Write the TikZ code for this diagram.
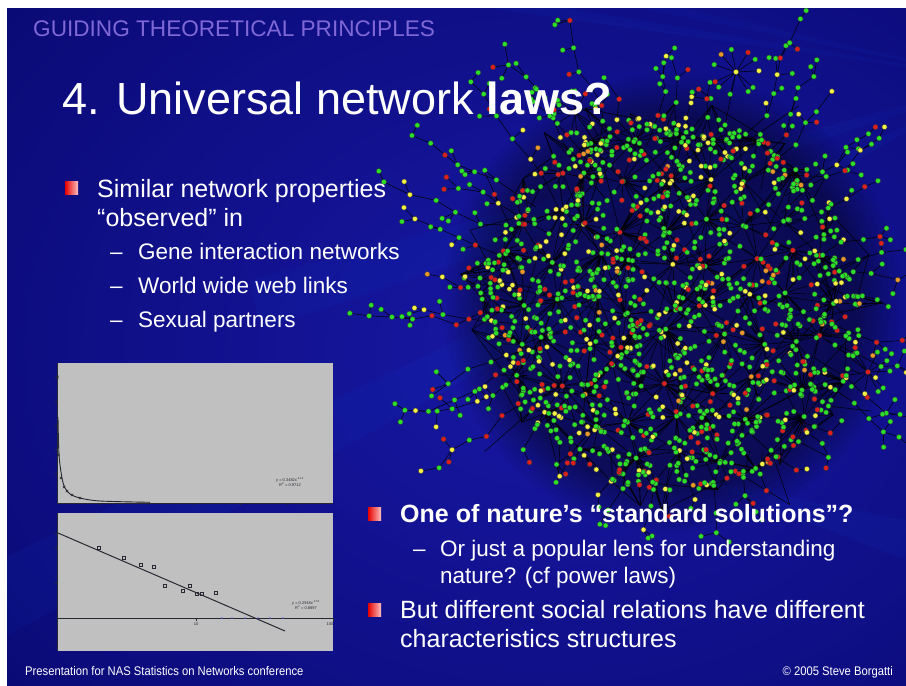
\documentclass[tikz,border=0pt]{standalone}
\usepackage{fontspec}
\setmainfont{Liberation Sans}
\usetikzlibrary{fadings}
\newcount\dotcount
\newcommand\storedot[2]{%
  \global\advance\dotcount by 1
  \expandafter\xdef\csname px\the\dotcount\endcsname{#1}%
  \expandafter\xdef\csname py\the\dotcount\endcsname{#2}}
\begin{document}
\begin{tikzpicture}[x=1pt,y=-1pt]
\definecolor{slidedeep}{RGB}{10,10,118}
\definecolor{slidemid}{RGB}{24,24,165}
\definecolor{headpurple}{RGB}{128,104,214}
\definecolor{ngreen}{RGB}{40,225,40}
\definecolor{nred}{RGB}{225,30,30}
\definecolor{nyellow}{RGB}{245,240,70}
\definecolor{norange}{RGB}{235,150,40}
\definecolor{chartgrey}{RGB}{192,192,192}
\definecolor{chartline}{RGB}{40,40,50}
\tikzset{
  edge/.style={black,line width=0.6pt,opacity=0.85},
  nodedot/.style={draw=black!80,line width=0.35pt},
  txt/.style={inner sep=0pt,anchor=base west,text=white},
  headline/.style={txt,font=\fontsize{25}{30}\selectfont},
  subline/.style={txt,font=\fontsize{22.5}{27}\selectfont},
  bulletbox/.style={left color=red!90!black,right color=red!25!white,draw=none},
  ray/.style={fill=blue!60!cyan,opacity=0.05},
  tick/.style={chartline,line width=0.5pt},
  datapt/.style={chartline,line width=0.6pt},
}
\useasboundingbox (0,0) rectangle (906,686);
\fill[white] (0,0) rectangle (906,686);

% slide background with soft light streaks
\begin{scope}
  \clip (7,8) rectangle (906,686);
  \shade[inner color=slidemid,outer color=slidedeep] (-150,-200) rectangle (1250,900);
  \fill[ray] (1000,80) -- (430,0) -- (520,0) -- cycle;
  \fill[ray] (1000,80) -- (600,0) -- (650,0) -- cycle;
  \fill[ray] (1000,80) -- (250,280) -- (260,330) -- cycle;
  \fill[ray] (1000,80) -- (0,560) -- (0,640) -- cycle;
  \fill[ray] (700,480) -- (906,520) -- (906,560) -- cycle;
\end{scope}

% network drawing: edges first, dots afterwards
\begin{scope}
  \clip (7,8) rectangle (906,686);
  % dark haze under the dense core
  \fill[black,opacity=0.42,path fading=circle with fuzzy edge 20 percent] (672,302) circle[radius=230];
  \pgfmathsetseed{2718}
  % hubs on a jittered grid over the core disc
  \foreach \gi in {0,...,10}{
    \foreach \gj in {0,...,10}{
      \pgfmathsetmacro\hx{472+40*\gi+13*rand}
      \pgfmathsetmacro\hy{102+40*\gj+13*rand}
      \expandafter\xdef\csname hx\gi-\gj\endcsname{\hx}
      \expandafter\xdef\csname hy\gi-\gj\endcsname{\hy}
    }
  }
  % links between neighbouring hubs, and the hub dots
  \foreach \gi in {0,...,10}{
    \foreach \gj in {0,...,10}{
      \edef\ax{\csname hx\gi-\gj\endcsname}\edef\ay{\csname hy\gi-\gj\endcsname}
      \pgfmathtruncatemacro\inside{veclen(0.01*(\ax-672),0.01*(\ay-302))<1.9}
      \ifnum\inside=1
        \storedot{\ax}{\ay}
        \foreach \di/\dj in {1/0,0/1,1/1,1/-1}{
          \pgfmathtruncatemacro\ni{\gi+\di}
          \pgfmathtruncatemacro\nj{\gj+\dj}
          \pgfmathtruncatemacro\ok{(rnd<0.6)&&(\ni<11)&&(\nj>-1)&&(\nj<11)}
          \ifnum\ok=1
            \edef\bx{\csname hx\ni-\nj\endcsname}\edef\by{\csname hy\ni-\nj\endcsname}
            \pgfmathtruncatemacro\okb{veclen(0.01*(\bx-672),0.01*(\by-302))<1.9}
            \ifnum\okb=1 \draw[edge] (\ax,\ay) -- (\bx,\by);\fi
          \fi
        }
      \fi
    }
  }
  % core members, each tied to the hub of its grid cell
  \foreach \i in {1,...,1250}{
    \pgfmathsetmacro\r{190*sqrt(rnd)}
    \pgfmathsetmacro\a{360*rnd}
    \pgfmathsetmacro\nx{672+\r*cos(\a)}
    \pgfmathsetmacro\ny{302+\r*sin(\a)}
    \pgfmathtruncatemacro\ci{round((\nx-472)/40)}
    \pgfmathtruncatemacro\cj{round((\ny-102)/40)}
    \edef\ax{\csname hx\ci-\cj\endcsname}\edef\ay{\csname hy\ci-\cj\endcsname}
    \draw[edge] (\ax,\ay) -- (\nx,\ny);
    \pgfmathtruncatemacro\extra{rnd<0.3}
    \ifnum\extra=1
      \pgfmathtruncatemacro\ei{max(0,min(10,\ci+round(rand)))}
      \pgfmathtruncatemacro\ej{max(0,min(10,\cj+round(rand)))}
      \edef\bx{\csname hx\ei-\ej\endcsname}\edef\by{\csname hy\ei-\ej\endcsname}
      \draw[edge] (\nx,\ny) -- (\bx,\by);
    \fi
    \storedot{\nx}{\ny}
  }
  % outward branches with twigs
  \foreach \b in {0,...,47}{
    \pgfmathsetmacro\th{\b*7.5+4*rand}
    \pgfmathsetmacro\rs{172+22*rnd}
    \pgfmathsetmacro\sx{672+\rs*cos(\th)}
    \pgfmathsetmacro\sy{302+\rs*sin(\th)}
    \pgfmathsetmacro\ix{672+(\rs-32)*cos(\th+8*rand)}
    \pgfmathsetmacro\iy{302+(\rs-32)*sin(\th+8*rand)}
    \draw[edge] (\ix,\iy) -- (\sx,\sy);
    \storedot{\sx}{\sy}
    \xdef\cx{\sx}\xdef\cy{\sy}
    \pgfmathtruncatemacro\down{sin(\th)>0.62}
    \pgfmathtruncatemacro\west{cos(\th)<-0.6}
    \ifnum\down=1
      \pgfmathtruncatemacro\len{1+1.6*rnd}
    \else
      \ifnum\west=1
        \pgfmathtruncatemacro\len{4+3.9*rnd}
      \else
        \pgfmathtruncatemacro\len{2+4.9*rnd}
      \fi
    \fi
    \foreach \s in {1,...,\len}{
      \pgfmathsetmacro\dir{\th+26*rand}
      \pgfmathsetmacro\st{15+14*rnd}
      \pgfmathsetmacro\nx{\cx+\st*cos(\dir)}
      \pgfmathsetmacro\ny{\cy+\st*sin(\dir)}
      \draw[edge] (\cx,\cy) -- (\nx,\ny);
      \storedot{\nx}{\ny}
      \pgfmathtruncatemacro\lv{2.7*rnd}
      \ifnum\lv>0
        \foreach \l in {1,...,\lv}{
          \pgfmathsetmacro\la{\dir+100*rand}
          \pgfmathsetmacro\lr{9+8*rnd}
          \pgfmathsetmacro\lx{\nx+\lr*cos(\la)}
          \pgfmathsetmacro\ly{\ny+\lr*sin(\la)}
          \draw[edge] (\nx,\ny) -- (\lx,\ly);
          \storedot{\lx}{\ly}
        }
      \fi
      \xdef\cx{\nx}\xdef\cy{\ny}
    }
  }
  % small star-shaped clusters on the rim
  \foreach \fx/\fy/\fr/\fn/\tx/\ty in {575/112/21/13/600/150, 736/72/23/11/725/125, 868/372/22/10/835/345, 480/278/15/8/520/290}{
    \draw[edge] (\fx,\fy) -- (\tx,\ty);
    \storedot{\tx}{\ty}
    \storedot{\fx}{\fy}
    \foreach \q in {1,...,\fn}{
      \pgfmathsetmacro\qa{\q*360/\fn+12*rand}
      \pgfmathsetmacro\qx{\fx+\fr*cos(\qa)}
      \pgfmathsetmacro\qy{\fy+\fr*sin(\qa)}
      \draw[edge] (\fx,\fy) -- (\qx,\qy);
      \storedot{\qx}{\qy}
    }
  }
  \foreach \i in {1,...,\the\dotcount}{
    \pgfmathtruncatemacro\c{100*rnd}
    \ifnum\c<66 \def\col{ngreen}\else\ifnum\c<83 \def\col{nred}\else\ifnum\c<97 \def\col{nyellow}\else\def\col{norange}\fi\fi\fi
    \edef\xx{\csname px\i\endcsname}
    \edef\yy{\csname py\i\endcsname}
    \filldraw[nodedot,fill=\col] (\xx,\yy) circle[radius=2.6];
  }
\end{scope}

% header and title
\node[txt,text=headpurple,font=\fontsize{22.6}{27}\selectfont] (head) at (33,36) {GUIDING THEORETICAL PRINCIPLES};
\node[txt,font=\fontsize{45}{54}\selectfont] (title) at (62,114) {4. Universal network \textbf{laws?}};

% first bullet group
\fill[bulletbox] (65,181) rectangle (78,194);
\node[headline] (b1a) at (97,197) {Similar network properties};
\node[headline] (b1b) at (97,226) {“observed” in};
\node[subline] (d1) at (110,259) {–};
\node[subline] (s1) at (138,259) {Gene interaction networks};
\node[subline] (d2) at (110,293) {–};
\node[subline] (s2) at (138,293) {World wide web links};
\node[subline] (d3) at (110,327) {–};
\node[subline] (s3) at (138,327) {Sexual partners};

% second bullet group
\fill[bulletbox] (368,507) rectangle (381,520);
\node[headline,font=\fontsize{25}{30}\selectfont\bfseries] (b2) at (400,522) {One of nature’s “standard solutions”?};
\node[subline] (d4) at (413,556) {–};
\node[subline] (s4) at (440,556) {Or just a popular lens for understanding};
\node[subline] (s5) at (440,583) {nature? (cf power laws)};
\fill[bulletbox] (368,603) rectangle (381,616);
\node[headline] (b3a) at (400,618) {But different social relations have different};
\node[headline] (b3b) at (400,647) {characteristics structures};

% degree distribution chart
\fill[chartgrey] (57,363) rectangle (333,503);
\draw[chartline,line width=0.8pt] (57,363) -- (57,503) -- (333,503);
\foreach \t in {377,401,425,449,473}{\draw[tick] (55,\t) -- (57,\t);}
\foreach \t in {100,147,193,240,287}{\draw[tick] (\t,503) -- (\t,505);}
\draw[chartline,line width=0.9pt] plot[smooth] coordinates {(58,417) (59,455) (62,478) (65,488) (70,494) (80,498) (100,501) (150,502.3)};
\foreach \p in {(57.5,377),(58.5,455),(61,478),(64,487),(67,491),(72,495),(80,498)}{\draw[datapt] \p ++(-1.2,-1.2) -- ++(2.4,2.4) ++(-2.4,0) -- ++(2.4,-2.4);}
\node[inner sep=0pt,align=center,font=\fontsize{4}{4.5}\selectfont,text=chartline] (leg1) at (290,482) {y = 0.3482x\textsuperscript{-2.12}\\R\textsuperscript{2} = 0.9712};

% log-log chart
\fill[chartgrey] (57,513) rectangle (333,651);
\draw[chartline,line width=0.8pt] (57,513) -- (57,651);
\draw[chartline,line width=0.8pt] (57,618) -- (333,618);
\foreach \t in {533,548,583}{\draw[tick] (55,\t) -- (57,\t);}
\foreach \t in {196,333}{\draw[tick] (\t,618) -- (\t,621);}
\draw[chartline,line width=1pt] (58,533) -- (285,631);
\foreach \p in {(99,548),(124,558),(141,565),(154,567),(165,586),(183,591),(190,586),(197,594),(202,594),(216,593)}{\draw[datapt] \p ++(-1.3,-1.3) rectangle ++(2.6,2.6);}
\foreach \q in {222,232,245,258,270,283}{\fill[blue!50!chartgrey] (\q,618) circle[radius=0.9];}
\node[inner sep=0pt,font=\fontsize{4}{4.5}\selectfont,text=chartline] (tk10) at (196,624) {10};
\node[inner sep=0pt,font=\fontsize{4}{4.5}\selectfont,text=chartline] (tk100) at (330,624) {100};
\node[inner sep=0pt,align=center,font=\fontsize{4}{4.5}\selectfont,text=chartline] (leg2) at (306,605) {y = 0.2918x\textsuperscript{-1.51}\\R\textsuperscript{2} = 0.8897};

% footer
\node[txt,font=\fontsize{12.5}{14}\selectfont,xscale=0.9] (foot1) at (25,675) {Presentation for NAS Statistics on Networks conference};
\node[inner sep=0pt,anchor=base east,text=white,font=\fontsize{12.5}{14}\selectfont,xscale=0.9] (foot2) at (893,675) {© 2005 Steve Borgatti};
\end{tikzpicture}
\end{document}
